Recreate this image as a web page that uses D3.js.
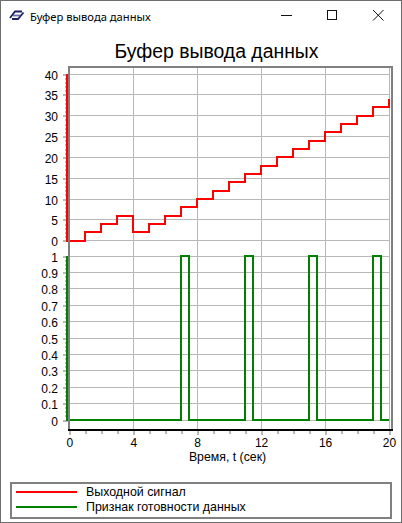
<!DOCTYPE html>
<html><head><meta charset="utf-8">
<script src="https://cdn.jsdelivr.net/npm/d3@7"></script>
<style>
html,body{margin:0;padding:0;background:#fff;overflow:hidden}
svg{display:block}
text{font-family:"Liberation Sans",Arial,sans-serif;fill:#000}
</style></head><body>
<script>
const windowTitle = "Буфер вывода данных";
const xLabel = "Время, t (сек)";
const seriesNames = ["Выходной сигнал", "Признак готовности данных"];
const seriesColors = ["#ff0000", "#008000"];
const outputTimes = [-0.14,-0.14,1,2,3,4,5,6,7,8,9,10,11,12,13,14,15,16,17,18,19,20,20];
const outputValues = [40,0,2,4,6,2,4,6,8,10,12,14,16,18,20,22,24,26,28,30,32,34,34];
const readyTimes = [-0.14,-0.14,7,7.5,11,11.5,15,15.5,19,19.5,20];
const readyValues = [1,0,1,0,1,0,1,0,1,0,0];
const xTicks = [0,4,8,12,16,20];
const xMinor = d3.range(0,21,1);
const yTopTicks = [0,5,10,15,20,25,30,35,40];
const yTopMinor = d3.range(0,41,1);
const yBottomTicks = [0,0.1,0.2,0.3,0.4,0.5,0.6,0.7,0.8,0.9,1];
const yBottomMinor = d3.range(0,1.001,0.025);

const W=402,H=523;
const svg=d3.select("body").append("svg").attr("width",W).attr("height",H);
const L=69, R=389, T=67, B=430;
const x=d3.scaleLinear([0,20],[L+0.3,R]);
const yTop=d3.scaleLinear([0,40],[240.7,74]);
const yBot=d3.scaleLinear([0,1],[420,256]);
const GRID="#b8b8b8", AX="#808080";

// window frame
svg.append("rect").attr("x",.5).attr("y",.5).attr("width",W-1).attr("height",H-1).attr("fill","#fff").attr("stroke","#6e6e6e");
svg.append("text").attr("x",30).attr("y",20.5).attr("font-size",11.2).style("font-family","'Noto Sans',sans-serif").text(windowTitle);
// app icon
const ic=svg.append("g").attr("fill","none").attr("stroke-width",1.8);
ic.append("path").attr("d","M10 18 L15 11.5 L22 11.5").attr("stroke","#1e1e64");
ic.append("path").attr("d","M12 19 L18 19 L23.5 12.5").attr("stroke","#1e1e64");
ic.append("path").attr("d","M13 15.5 L20 15.5").attr("stroke","#6a6aa8");
// window buttons
const wb=svg.append("g").attr("stroke","#111").attr("fill","none").attr("stroke-width",1);
wb.append("path").attr("d","M281 15.5H292");
wb.append("rect").attr("x",327.5).attr("y",10.5).attr("width",9).attr("height",9);
wb.append("path").attr("d","M373 10L383.5 20.5M383.5 10L373 20.5");

svg.append("text").attr("x",216.5).attr("y",58).attr("text-anchor","middle").attr("font-size",19.4).text(windowTitle);

// grid
const g=svg.append("g").attr("stroke",GRID).attr("stroke-width",1).attr("shape-rendering","crispEdges");
xTicks.forEach(d=>g.append("line").attr("x1",x(d)).attr("x2",x(d)).attr("y1",T).attr("y2",B));
yTopTicks.forEach(d=>g.append("line").attr("x1",L).attr("x2",R).attr("y1",yTop(d)).attr("y2",yTop(d)));
yBottomTicks.forEach(d=>g.append("line").attr("x1",L).attr("x2",R).attr("y1",yBot(d)).attr("y2",yBot(d)));

// axes
function styleAxis(a){
  a.select(".domain").remove();
  a.selectAll("line").attr("stroke",GRID).attr("stroke-width",2).attr("shape-rendering","crispEdges");
  a.selectAll("text").attr("font-size",12).attr("font-family",null);
}
function leftAxis(scale,major,minor){
  svg.append("g").attr("transform",`translate(${L-1},0)`)
    .call(d3.axisLeft(scale).tickValues(minor).tickSize(3).tickFormat("")).call(styleAxis);
  svg.append("g").attr("transform",`translate(${L-1},0)`)
    .call(d3.axisLeft(scale).tickValues(major).tickSize(5).tickPadding(5).tickFormat(d3.format("~g"))).call(styleAxis)
    .selectAll("text").attr("dy","0.42em");
}
leftAxis(yTop,yTopTicks,yTopMinor);
leftAxis(yBot,yBottomTicks,yBottomMinor);
svg.append("g").attr("transform",`translate(0,${B+1})`)
  .call(d3.axisBottom(x).tickValues(xMinor).tickSize(3).tickFormat("")).call(styleAxis);
svg.append("g").attr("transform",`translate(0,${B+1})`)
  .call(d3.axisBottom(x).tickValues(xTicks).tickSize(4).tickPadding(3)).call(styleAxis);

// curves
const stepLine=(sc)=>d3.line().x(d=>x(d[0])).y(d=>sc(d[1])).curve(d3.curveStepAfter);
const plot=svg.append("g").attr("fill","none").attr("stroke-width",2).attr("shape-rendering","crispEdges");
plot.append("path").attr("stroke",seriesColors[0]).attr("d",stepLine(yTop)(d3.zip(outputTimes,outputValues)));
plot.append("path").attr("stroke",seriesColors[1]).attr("d",stepLine(yBot)(d3.zip(readyTimes,readyValues)));

// frame
const fr=svg.append("g").attr("shape-rendering","crispEdges");
fr.append("rect").attr("x",68).attr("y",66).attr("width",325).attr("height",2).attr("fill",AX);
fr.append("rect").attr("x",68).attr("y",66).attr("width",2).attr("height",365).attr("fill",AX);
fr.append("rect").attr("x",391).attr("y",66).attr("width",2).attr("height",365).attr("fill",AX);
fr.append("rect").attr("x",68).attr("y",429).attr("width",325).attr("height",2).attr("fill","#000");

svg.append("text").attr("x",227.5).attr("y",461).attr("text-anchor","middle").attr("font-size",12.3).text(xLabel);

// legend
svg.append("rect").attr("x",11).attr("y",483).attr("width",380).attr("height",35).attr("fill","#fff").attr("stroke",AX).attr("stroke-width",2).attr("shape-rendering","crispEdges");
seriesNames.forEach((n,i)=>{
  const y=492+i*15;
  svg.append("line").attr("x1",16).attr("x2",77).attr("y1",y).attr("y2",y).attr("stroke",seriesColors[i]).attr("stroke-width",2).attr("shape-rendering","crispEdges");
  svg.append("text").attr("x",86).attr("y",y+4).attr("font-size",12.4).text(n);
});
</script>
</body></html>
